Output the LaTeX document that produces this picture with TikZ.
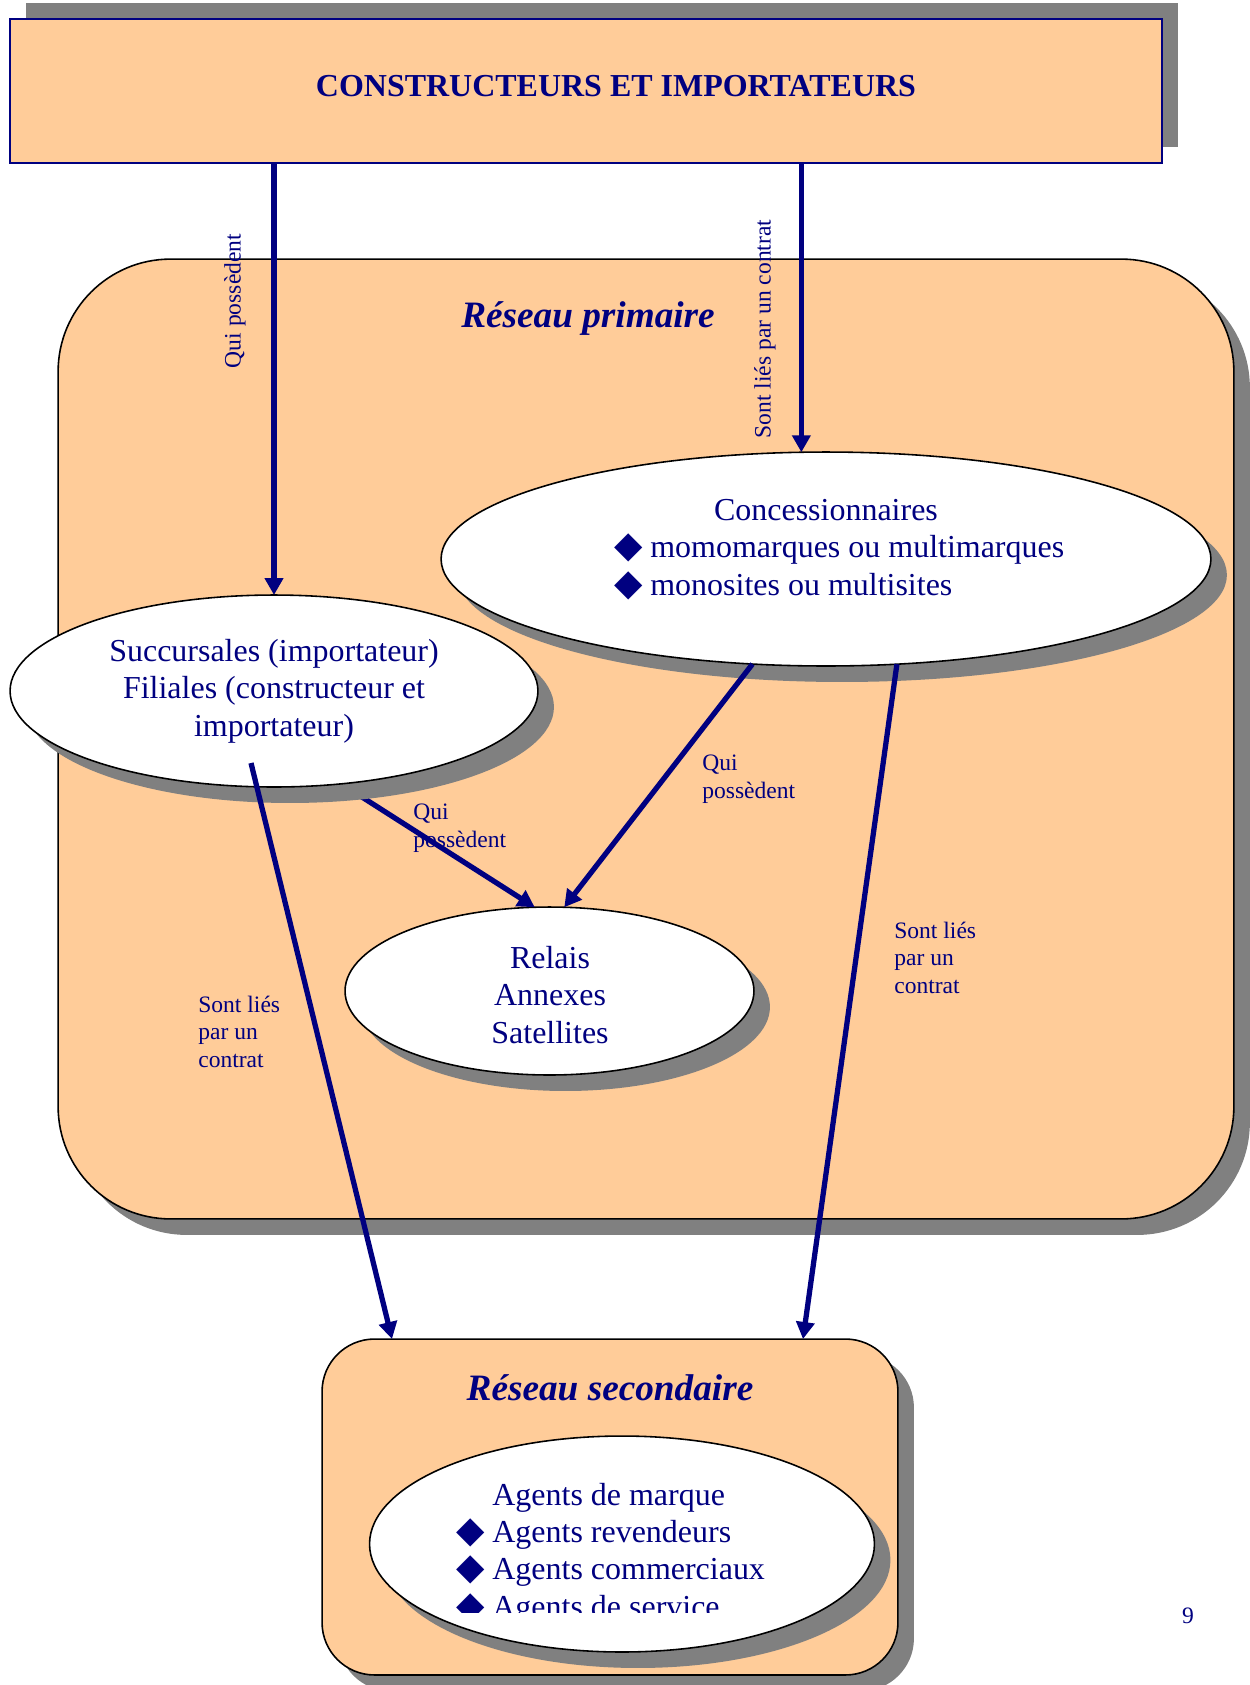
\documentclass[tikz,border=0pt]{standalone}
\usepackage{fontspec}
\setmainfont{Liberation Serif}
\newfontfamily\symfont{DejaVu Sans}
\usetikzlibrary{arrows.meta,shapes.geometric,shadows}
\definecolor{navy}{HTML}{000080}
\definecolor{peach}{HTML}{FFCC99}
\definecolor{ombre}{HTML}{808080}
\def\puce{{\symfont\fontsize{21}{21}\selectfont ◆}\hspace{4pt}}
\tikzset{
	ombrage/.style={drop shadow={shadow xshift=0.32cm, shadow yshift=#1, opacity=1, fill=ombre}},
	ombrage/.default=-0.32cm,
	cadre/.style={rectangle, draw=black, line width=0.9pt, fill=peach, inner sep=0pt, outer sep=0pt},
	bulle/.style={ellipse, draw=black, line width=0.9pt, fill=white, inner sep=0pt, outer sep=0pt, ombrage},
	fleche/.style={draw=navy, line width=3pt, -{Triangle[length=0.34cm,width=0.36cm]}},
	grand/.style={text=navy, font=\fontsize{18.2}{21.1}\selectfont, inner sep=0pt},
	petit/.style={text=navy, font=\fontsize{13.4}{15.6}\selectfont, inner sep=0pt},
	titre/.style={text=navy, font=\bfseries\itshape\fontsize{21.2}{24}\selectfont, inner sep=0pt}
}

\begin{document}
\begin{tikzpicture}[x=0.02cm, y=-0.02cm]
		%%%%% START %%%%%
		\useasboundingbox (0,0) rectangle (1250,1685);
		
		% constructeurs
		\node[cadre, draw=navy, line width=1.2pt, ombrage=0.32cm, minimum width=23.06cm, minimum height=2.88cm] (top) at (586,91) {};
		\node[text=navy, font=\bfseries\fontsize{18.2}{22}\selectfont, inner sep=0pt, anchor=base] (top-txt) at (616,96) {CONSTRUCTEURS ET IMPORTATEURS};
		
		% les deux reseaux
		\node[cadre, ombrage, rounded corners=2.25cm, minimum width=23.52cm, minimum height=19.2cm] (prim) at (646,739) {};
		\node[titre, anchor=base] (prim-txt) at (588,327) {Réseau primaire};
		\node[cadre, ombrage, rounded corners=1.05cm, minimum width=11.52cm, minimum height=6.72cm] (sec) at (610,1507) {};
		\node[titre, anchor=base] (sec-txt) at (610,1400) {Réseau secondaire};
		
		\coordinate (succ-pied) at (340,783);
		\coordinate (succ-dedans) at (251,763);
		\coordinate (sec-g) at (392,1339);
		\coordinate (sec-d) at (803,1339);
		
		\node[bulle, minimum width=8.18cm, minimum height=3.36cm] (relais) at (549.5,991) {};
		\node[petit, anchor=base west, align=left] (qui-g) at (413,847) {Qui\\possèdent};
		\draw[fleche] (succ-pied) -- (relais.100);
		
		\node[bulle, minimum width=10.56cm, minimum height=3.84cm] (succ) at (274,691) {};
		\node[bulle, minimum width=15.4cm, minimum height=4.28cm] (conc) at (826,559) {};
		\node[bulle, minimum width=10.1cm, minimum height=4.32cm] (agents) at (622,1544) {};
		
		\node[grand, anchor=base, align=center] (succ-txt) at (274,736) {Succursales (importateur)\\Filiales (constructeur et\\importateur)};
		\node[grand, anchor=base] (conc-txt) at (826,520) {Concessionnaires};
		\node[grand, anchor=base west, align=left] (conc-liste) at (650,595) {\llap{\puce}momomarques ou multimarques\\\llap{\puce}monosites ou multisites};
		\node[grand, anchor=base, align=center] (relais-txt) at (550,1043) {Relais\\Annexes\\Satellites};
		\begin{scope}
			\clip (340,1420) rectangle (900,1612);
			\node[grand, anchor=base west, align=left] (agents-txt) at (492,1617) {Agents de marque\\\llap{\puce}Agents revendeurs\\\llap{\puce}Agents commerciaux\\\llap{\puce}Agents de service};
		\end{scope}
		
		% fleches
		\draw[fleche] (top.south -| succ.north) -- (succ.north);
		\draw[fleche] (top.south -| conc.103) -- (conc.103);
		\draw[fleche] (conc.235) -- (relais.80);
		\draw[fleche] (conc.304) -- (sec-d);
		\draw[fleche] (succ-dedans) -- (sec-g);
		
		\node[petit, rotate=90] (qui-v) at (235,301) {Qui possèdent};
		\node[petit, rotate=90] (lies-v) at (765,329) {Sont liés par un contrat};
		\node[petit, anchor=base west, align=left] (qui-d) at (702,798) {Qui\\possèdent};
		\node[petit, anchor=base west, align=left] (lies-g) at (198,1067) {Sont liés\\par un\\contrat};
		\node[petit, anchor=base west, align=left] (lies-d) at (894,993) {Sont liés\\par un\\contrat};
		\node[petit, anchor=base] (page) at (1188,1623) {9};
		%%%%% END %%%%%
\end{tikzpicture}
\end{document}
